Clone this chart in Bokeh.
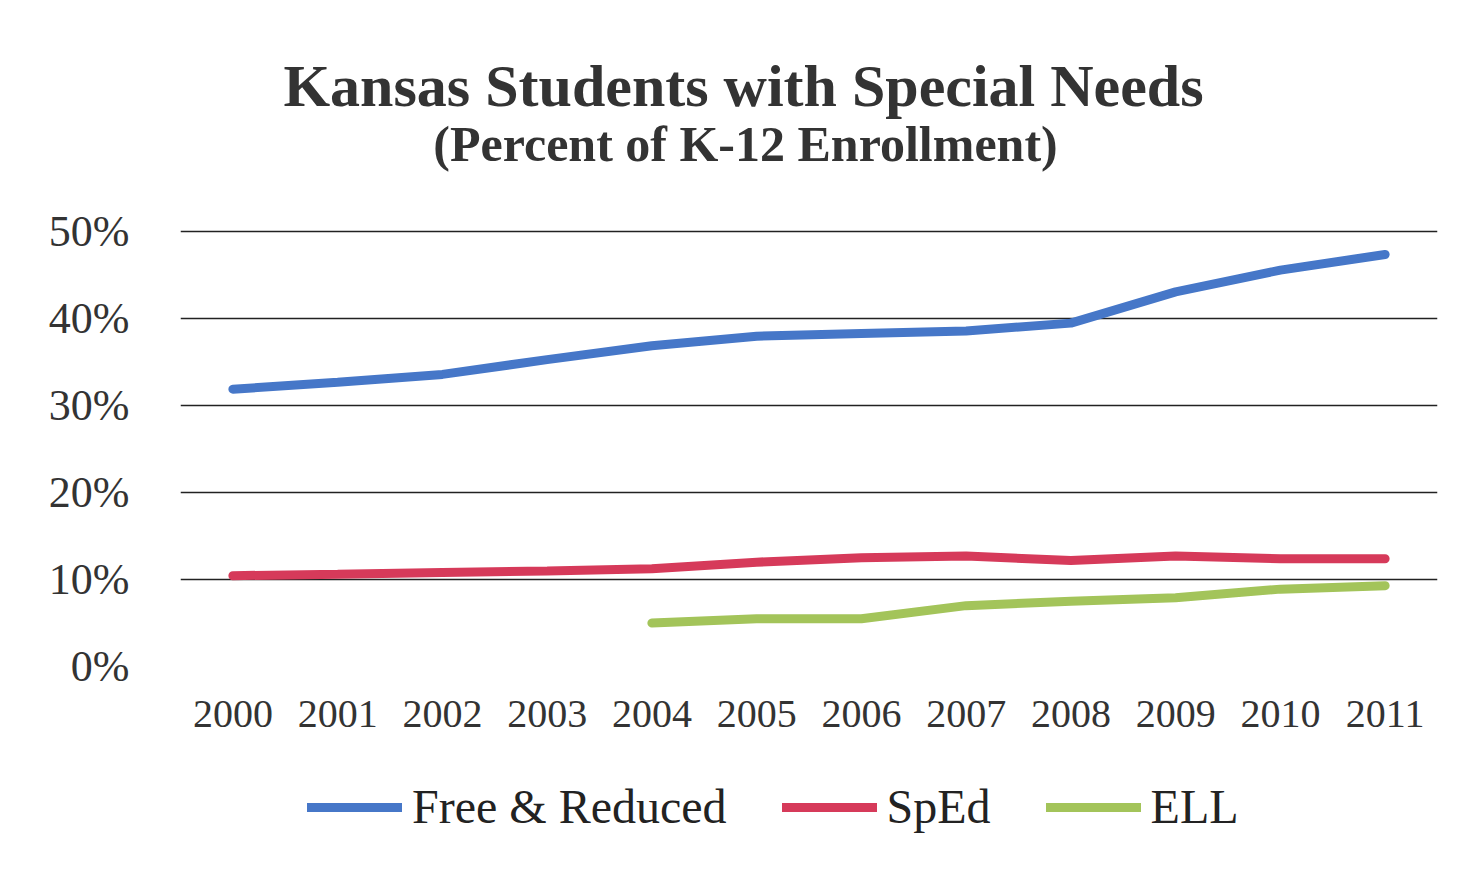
from bokeh.plotting import figure
from bokeh.layouts import column
from bokeh.models import (Label, Legend, LegendItem, FixedTicker, PrintfTickFormatter, Range1d, FactorRange)
from bokeh.embed import file_html
from bokeh.resources import INLINE

years = ["2000", "2001", "2002", "2003", "2004", "2005", "2006", "2007", "2008", "2009", "2010", "2011"]
free_reduced = [31.9, 32.7, 33.6, 35.3, 36.9, 38.0, 38.3, 38.6, 39.5, 43.1, 45.6, 47.4]
sped = [10.45, 10.6, 10.8, 11.0, 11.25, 12.0, 12.5, 12.7, 12.2, 12.7, 12.4, 12.4]
ell_years = ["2004", "2005", "2006", "2007", "2008", "2009", "2010", "2011"]
ell = [5.0, 5.5, 5.5, 7.0, 7.5, 7.9, 8.9, 9.3]
y_ticks = [0, 10, 20, 30, 40, 50]
series_names = ["Free & Reduced", "SpEd", "ELL"]
colors = ["#4677c8", "#d63a5a", "#a3c45a"]
title_text = "Kansas Students with Special Needs"
subtitle_text = "(Percent of K-12 Enrollment)"

SERIF = "Liberation Serif"
W = 1480
HEAD_H = 200
LEG_H = 110
MAIN_H = 878 - HEAD_H - LEG_H
FRAME_LEFT = 180


def strip(height, x_range, y_range):
    f = figure(width=W, height=height, x_range=x_range, y_range=y_range,
               output_backend="svg", toolbar_location=None,
               min_border_left=FRAME_LEFT, min_border_right=43,
               min_border_top=0, min_border_bottom=0)
    f.axis.visible = False
    f.grid.visible = False
    f.outline_line_color = None
    f.border_fill_color = "white"
    f.background_fill_color = "white"
    return f


# header with titles
head = strip(HEAD_H, Range1d(0, 1), Range1d(0, 1))
head.add_layout(Label(x=743 - FRAME_LEFT, y=HEAD_H - 85, x_units="screen", y_units="screen",
                      text=title_text, text_font=SERIF, text_font_size="60px",
                      text_font_style="bold", text_color="#333333",
                      text_align="center", text_baseline="middle"))
head.add_layout(Label(x=745 - FRAME_LEFT, y=HEAD_H - 143, x_units="screen", y_units="screen",
                      text=subtitle_text, text_font=SERIF, text_font_size="50px",
                      text_font_style="bold", text_color="#333333",
                      text_align="center", text_baseline="middle"))

# main chart
p = figure(width=W, height=MAIN_H, x_range=FactorRange(*years, range_padding=0),
           y_range=Range1d(0, 50.5), output_backend="svg", toolbar_location=None,
           min_border_left=FRAME_LEFT, min_border_right=43, min_border_top=27, min_border_bottom=102)
p.outline_line_color = None
p.background_fill_color = "white"
p.border_fill_color = "white"

p.line(years, free_reduced, line_color=colors[0], line_width=9, line_cap="round")
p.line(years, sped, line_color=colors[1], line_width=9, line_cap="round")
p.line(ell_years, ell, line_color=colors[2], line_width=9, line_cap="round")

p.yaxis.ticker = FixedTicker(ticks=y_ticks)
p.yaxis.formatter = PrintfTickFormatter(format="%d%%")
p.yaxis.axis_line_color = None
p.yaxis.major_tick_line_color = None
p.yaxis.minor_tick_line_color = None
p.yaxis.major_label_text_font = SERIF
p.yaxis.major_label_text_font_size = "44px"
p.yaxis.major_label_text_color = "#333333"
p.yaxis.major_label_standoff = 45

p.xaxis.axis_line_color = None
p.xaxis.major_tick_line_color = None
p.xaxis.major_label_text_font = SERIF
p.xaxis.major_label_text_font_size = "40px"
p.xaxis.major_label_text_color = "#333333"
p.xaxis.major_label_standoff = 28

p.xgrid.grid_line_color = None
p.ygrid.ticker = FixedTicker(ticks=y_ticks)
p.ygrid.grid_line_color = "#222222"
p.ygrid.grid_line_width = 1.5

# legend strip: the same series, drawn outside its visible y range, provide the legend glyphs
leg = strip(LEG_H, FactorRange(*years, range_padding=0), Range1d(1000, 1001))
series_x = [years, years, ell_years]
series_y = [free_reduced, sped, ell]
items = []
for name, c, xs, ys in zip(series_names, colors, series_x, series_y):
    r = leg.line(xs, ys, line_color=c, line_width=9, line_cap="round")
    items.append(LegendItem(label=name, renderers=[r]))
legend = Legend(items=items, orientation="horizontal", location=(307 - FRAME_LEFT, 44),
                label_text_font=SERIF, label_text_font_size="48px", label_text_color="#222222",
                glyph_width=95, glyph_height=30, spacing=55, label_standoff=10,
                border_line_color=None, background_fill_alpha=0, margin=0, padding=0)
leg.add_layout(legend, "center")

layout = column(head, p, leg, spacing=0)
open("out.html", "w").write(file_html(layout, INLINE))
